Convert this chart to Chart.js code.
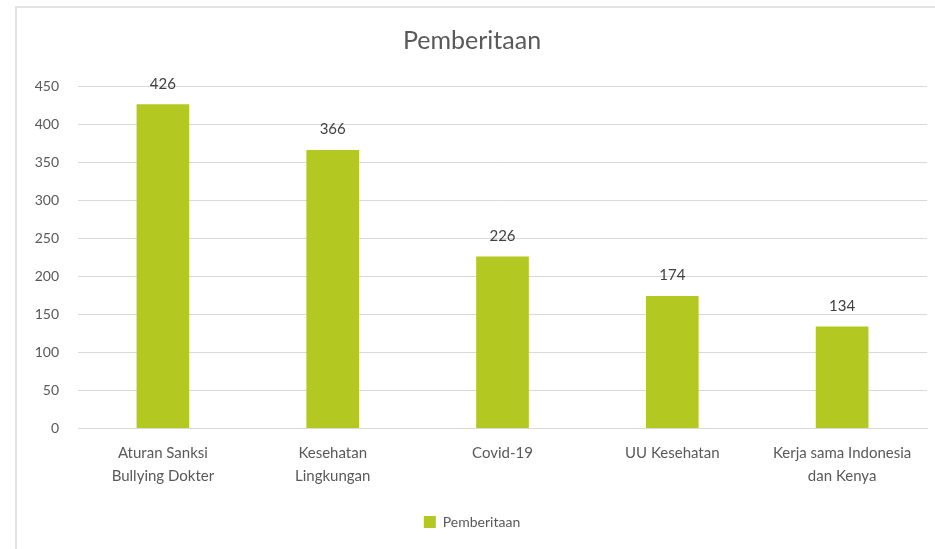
<!DOCTYPE html>
<html>
<head>
<meta charset="utf-8">
<script src="https://cdn.jsdelivr.net/npm/chart.js@4/dist/chart.umd.min.js"></script>
<style>
  body { margin: 0; background: #fff; }
  #frame { position: absolute; left: 15px; top: 6px; width: 920px; height: 543px;
           border-left: 2px solid #e3e3e3; border-top: 2px solid #e3e3e3; }
  canvas { display: block; }
</style>
</head>
<body>
<div id="frame"><canvas id="chart" width="918" height="541"></canvas></div>
<script>
// data pemberitaan
const kategori = [
  ['Aturan Sanksi', 'Bullying Dokter'],
  ['Kesehatan', 'Lingkungan'],
  'Covid-19',
  'UU Kesehatan',
  ['Kerja sama Indonesia', 'dan Kenya']
];
const jumlah = [426, 366, 226, 174, 134];
const yTicks = [0, 50, 100, 150, 200, 250, 300, 350, 400, 450];

const abu = '#595959';
const hijau = '#b3c922';

// plugin untuk angka di atas batang
const labelAtas = {
  id: 'labelAtas',
  afterDatasetsDraw(chart) {
    const ctx = chart.ctx;
    const meta = chart.getDatasetMeta(0);
    ctx.save();
    ctx.font = '15px Lato';
    ctx.fillStyle = '#404040';
    ctx.textAlign = 'center';
    ctx.textBaseline = 'bottom';
    meta.data.forEach((bar, i) => {
      ctx.fillText(jumlah[i], bar.x, bar.y - 13);
    });
    ctx.restore();
  }
};

let ctx = document.getElementById('chart').getContext('2d');
let myBarChart = new Chart(ctx, {
  type: 'bar',
  data: {
    labels: kategori,
    datasets: [
      { data: jumlah, label: 'Pemberitaan', backgroundColor: hijau, borderWidth: 0,
        barPercentage: 0.62, categoryPercentage: 0.5 }
    ]
  },
  options: {
    responsive: false,
    animation: false,
    layout: { padding: { left: 0, right: 8, top: 10, bottom: 10 } },
    plugins: {
      title: { display: true, text: 'Pemberitaan', color: abu,
               font: { family: 'Lato', size: 25, weight: 'normal' }, padding: { top: 8, bottom: 30 } },
      legend: { position: 'bottom',
                labels: { color: abu, font: { family: 'Lato', size: 14 },
                          boxWidth: 12, boxHeight: 12, padding: 10 } },
      tooltip: { enabled: false }
    },
    scales: {
      x: {
        afterFit(scale) { scale.height += 12; },
        grid: { display: false },
        border: { color: '#d9d9d9', width: 1 },
        ticks: { color: abu, font: { family: 'Lato', size: 15, lineHeight: 1.55 },
                 maxRotation: 0, autoSkip: false, padding: 5 }
      },
      y: {
        min: 0, max: 450,
        afterFit(scale) { scale.width = 61; },
        afterBuildTicks(scale) { scale.ticks = yTicks.map(v => ({ value: v })); },
        grid: { color: '#d9d9d9', drawTicks: false },
        border: { display: false },
        ticks: { color: abu, font: { family: 'Lato', size: 14 }, padding: 19 }
      }
    }
  },
  plugins: [labelAtas]
});
</script>
</body>
</html>
